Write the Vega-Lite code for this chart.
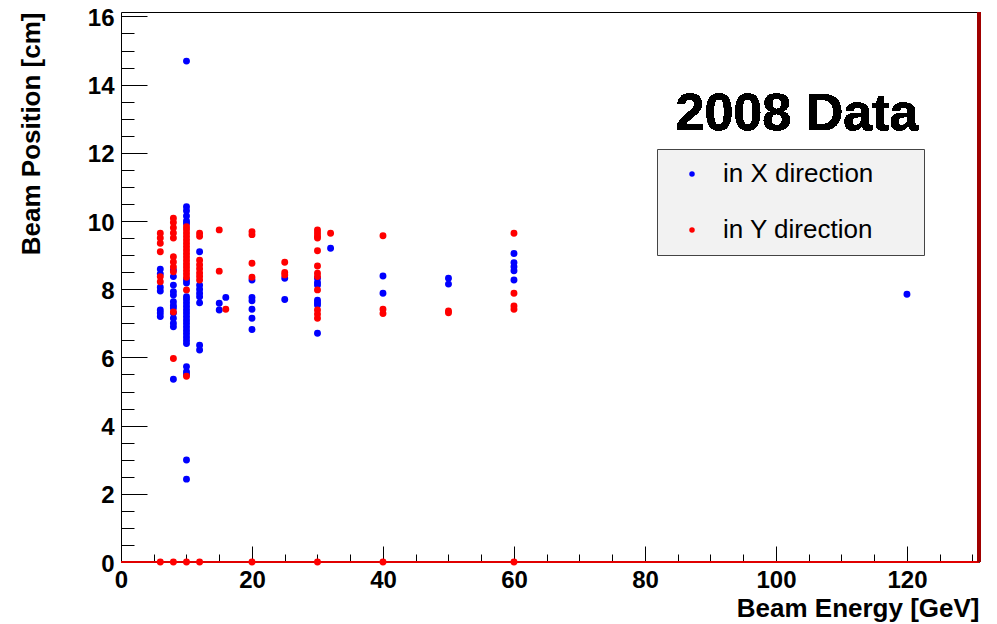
{
  "$schema": "https://vega.github.io/schema/vega-lite/v6.json",
  "width": 858,
  "height": 550,
  "autosize": {"type": "none"},
  "padding": {"left": 121, "top": 12, "right": 18, "bottom": 62},
  "background": "white",
  "config": {
    "view": {"stroke": "black", "strokeWidth": 1},
    "axis": {"grid": false, "domain": false, "tickColor": "black", "tickWidth": 1, "labelFont": "Liberation Sans", "labelFontWeight": "bold", "labelColor": "black", "titleFont": "Liberation Sans", "titleFontWeight": "bold", "titleColor": "black"}
  },
  "data": {"values": [
    {"e":6,"p":8.59,"d":"in X direction"},{"e":6,"p":8.45,"d":"in X direction"},{"e":6,"p":8.06,"d":"in X direction"},{"e":6,"p":7.95,"d":"in X direction"},{"e":6,"p":7.39,"d":"in X direction"},{"e":6,"p":7.3,"d":"in X direction"},{"e":6,"p":7.2,"d":"in X direction"},
    {"e":8,"p":8.56,"d":"in X direction"},{"e":8,"p":8.37,"d":"in X direction"},{"e":8,"p":8.12,"d":"in X direction"},{"e":8,"p":7.93,"d":"in X direction"},{"e":8,"p":7.83,"d":"in X direction"},{"e":8,"p":7.63,"d":"in X direction"},{"e":8,"p":7.52,"d":"in X direction"},{"e":8,"p":7.45,"d":"in X direction"},{"e":8,"p":7.3,"d":"in X direction"},{"e":8,"p":7.15,"d":"in X direction"},{"e":8,"p":7.0,"d":"in X direction"},{"e":8,"p":6.9,"d":"in X direction"},{"e":8,"p":5.36,"d":"in X direction"},
    {"e":10,"p":14.69,"d":"in X direction"},{"e":10,"p":10.42,"d":"in X direction"},{"e":10,"p":10.3,"d":"in X direction"},{"e":10,"p":10.15,"d":"in X direction"},{"e":10,"p":10.0,"d":"in X direction"},{"e":10,"p":9.93,"d":"in X direction"},{"e":10,"p":8.27,"d":"in X direction"},{"e":10,"p":8.18,"d":"in X direction"},{"e":10,"p":7.78,"d":"in X direction"},{"e":10,"p":7.7,"d":"in X direction"},{"e":10,"p":7.6,"d":"in X direction"},{"e":10,"p":7.5,"d":"in X direction"},{"e":10,"p":7.4,"d":"in X direction"},{"e":10,"p":7.3,"d":"in X direction"},{"e":10,"p":7.2,"d":"in X direction"},{"e":10,"p":7.1,"d":"in X direction"},{"e":10,"p":7.0,"d":"in X direction"},{"e":10,"p":6.9,"d":"in X direction"},{"e":10,"p":6.8,"d":"in X direction"},{"e":10,"p":6.7,"d":"in X direction"},{"e":10,"p":6.6,"d":"in X direction"},{"e":10,"p":6.5,"d":"in X direction"},{"e":10,"p":6.41,"d":"in X direction"},{"e":10,"p":5.73,"d":"in X direction"},{"e":10,"p":5.58,"d":"in X direction"},{"e":10,"p":5.5,"d":"in X direction"},{"e":10,"p":2.99,"d":"in X direction"},{"e":10,"p":2.43,"d":"in X direction"},
    {"e":12,"p":9.1,"d":"in X direction"},{"e":12,"p":8.12,"d":"in X direction"},{"e":12,"p":8.0,"d":"in X direction"},{"e":12,"p":7.88,"d":"in X direction"},{"e":12,"p":7.78,"d":"in X direction"},{"e":12,"p":7.6,"d":"in X direction"},{"e":12,"p":6.36,"d":"in X direction"},{"e":12,"p":6.22,"d":"in X direction"},
    {"e":15,"p":7.59,"d":"in X direction"},{"e":15,"p":7.39,"d":"in X direction"},
    {"e":16,"p":7.76,"d":"in X direction"},
    {"e":20,"p":8.27,"d":"in X direction"},{"e":20,"p":7.76,"d":"in X direction"},{"e":20,"p":7.66,"d":"in X direction"},{"e":20,"p":7.41,"d":"in X direction"},{"e":20,"p":7.15,"d":"in X direction"},{"e":20,"p":6.82,"d":"in X direction"},
    {"e":25,"p":8.32,"d":"in X direction"},{"e":25,"p":7.7,"d":"in X direction"},
    {"e":30,"p":8.32,"d":"in X direction"},{"e":30,"p":8.2,"d":"in X direction"},{"e":30,"p":8.12,"d":"in X direction"},{"e":30,"p":7.68,"d":"in X direction"},{"e":30,"p":7.6,"d":"in X direction"},{"e":30,"p":7.54,"d":"in X direction"},{"e":30,"p":6.71,"d":"in X direction"},
    {"e":32,"p":9.2,"d":"in X direction"},
    {"e":40,"p":8.39,"d":"in X direction"},{"e":40,"p":7.88,"d":"in X direction"},
    {"e":50,"p":8.32,"d":"in X direction"},{"e":50,"p":8.15,"d":"in X direction"},
    {"e":60,"p":9.05,"d":"in X direction"},{"e":60,"p":8.78,"d":"in X direction"},{"e":60,"p":8.66,"d":"in X direction"},{"e":60,"p":8.54,"d":"in X direction"},{"e":60,"p":8.27,"d":"in X direction"},
    {"e":120,"p":7.85,"d":"in X direction"},
    {"e":6,"p":9.64,"d":"in Y direction"},{"e":6,"p":9.5,"d":"in Y direction"},{"e":6,"p":9.35,"d":"in Y direction"},{"e":6,"p":9.1,"d":"in Y direction"},{"e":6,"p":8.37,"d":"in Y direction"},{"e":6,"p":8.22,"d":"in Y direction"},{"e":6,"p":0,"d":"in Y direction"},
    {"e":8,"p":10.08,"d":"in Y direction"},{"e":8,"p":9.96,"d":"in Y direction"},{"e":8,"p":9.8,"d":"in Y direction"},{"e":8,"p":9.65,"d":"in Y direction"},{"e":8,"p":9.5,"d":"in Y direction"},{"e":8,"p":8.95,"d":"in Y direction"},{"e":8,"p":8.8,"d":"in Y direction"},{"e":8,"p":8.65,"d":"in Y direction"},{"e":8,"p":8.51,"d":"in Y direction"},{"e":8,"p":7.33,"d":"in Y direction"},{"e":8,"p":5.97,"d":"in Y direction"},{"e":8,"p":0,"d":"in Y direction"},
    {"e":10,"p":9.83,"d":"in Y direction"},{"e":10,"p":9.75,"d":"in Y direction"},{"e":10,"p":9.65,"d":"in Y direction"},{"e":10,"p":9.55,"d":"in Y direction"},{"e":10,"p":9.45,"d":"in Y direction"},{"e":10,"p":9.35,"d":"in Y direction"},{"e":10,"p":9.25,"d":"in Y direction"},{"e":10,"p":9.15,"d":"in Y direction"},{"e":10,"p":9.05,"d":"in Y direction"},{"e":10,"p":8.95,"d":"in Y direction"},{"e":10,"p":8.85,"d":"in Y direction"},{"e":10,"p":8.75,"d":"in Y direction"},{"e":10,"p":8.65,"d":"in Y direction"},{"e":10,"p":8.55,"d":"in Y direction"},{"e":10,"p":8.45,"d":"in Y direction"},{"e":10,"p":8.35,"d":"in Y direction"},{"e":10,"p":7.98,"d":"in Y direction"},{"e":10,"p":5.45,"d":"in Y direction"},{"e":10,"p":0,"d":"in Y direction"},
    {"e":12,"p":9.64,"d":"in Y direction"},{"e":12,"p":9.55,"d":"in Y direction"},{"e":12,"p":8.85,"d":"in Y direction"},{"e":12,"p":8.72,"d":"in Y direction"},{"e":12,"p":8.6,"d":"in Y direction"},{"e":12,"p":8.48,"d":"in Y direction"},{"e":12,"p":8.38,"d":"in Y direction"},{"e":12,"p":8.27,"d":"in Y direction"},{"e":12,"p":0,"d":"in Y direction"},
    {"e":15,"p":9.74,"d":"in Y direction"},{"e":15,"p":8.53,"d":"in Y direction"},
    {"e":16,"p":7.41,"d":"in Y direction"},
    {"e":20,"p":9.69,"d":"in Y direction"},{"e":20,"p":9.6,"d":"in Y direction"},{"e":20,"p":8.76,"d":"in Y direction"},{"e":20,"p":8.35,"d":"in Y direction"},{"e":20,"p":0,"d":"in Y direction"},
    {"e":25,"p":8.79,"d":"in Y direction"},{"e":25,"p":8.49,"d":"in Y direction"},{"e":25,"p":8.42,"d":"in Y direction"},
    {"e":30,"p":9.74,"d":"in Y direction"},{"e":30,"p":9.65,"d":"in Y direction"},{"e":30,"p":9.56,"d":"in Y direction"},{"e":30,"p":9.5,"d":"in Y direction"},{"e":30,"p":9.13,"d":"in Y direction"},{"e":30,"p":8.68,"d":"in Y direction"},{"e":30,"p":8.47,"d":"in Y direction"},{"e":30,"p":8.37,"d":"in Y direction"},{"e":30,"p":7.98,"d":"in Y direction"},{"e":30,"p":7.39,"d":"in Y direction"},{"e":30,"p":7.27,"d":"in Y direction"},{"e":30,"p":7.15,"d":"in Y direction"},{"e":30,"p":0,"d":"in Y direction"},
    {"e":32,"p":9.64,"d":"in Y direction"},
    {"e":40,"p":9.57,"d":"in Y direction"},{"e":40,"p":7.41,"d":"in Y direction"},{"e":40,"p":7.29,"d":"in Y direction"},{"e":40,"p":0,"d":"in Y direction"},
    {"e":50,"p":7.36,"d":"in Y direction"},{"e":50,"p":7.31,"d":"in Y direction"},
    {"e":60,"p":9.64,"d":"in Y direction"},{"e":60,"p":7.88,"d":"in Y direction"},{"e":60,"p":7.51,"d":"in Y direction"},{"e":60,"p":7.41,"d":"in Y direction"},{"e":60,"p":0,"d":"in Y direction"}
  ]},
  "layer": [
    {
      "mark": {"type": "rule", "color": "#e00000", "strokeWidth": 1.5},
      "encoding": {
        "y": {"datum": 0, "type": "quantitative", "scale": {"domain": [0, 16.13], "nice": false, "zero": false},
          "axis": {"orient": "left", "values": [0.5,1,1.5,2,2.5,3,3.5,4,4.5,5,5.5,6,6.5,7,7.5,8,8.5,9,9.5,10,10.5,11,11.5,12,12.5,13,13.5,14,14.5,15,15.5,16], "tickSize": -13, "labels": false, "title": null}}
      }
    },
    {
      "mark": {"type": "rule", "color": "#a00000", "strokeWidth": 3},
      "encoding": {
        "x": {"datum": 131, "type": "quantitative", "scale": {"domain": [0, 131], "nice": false, "zero": false},
          "axis": {"orient": "bottom", "values": [5,10,15,20,25,30,35,40,45,50,55,60,65,70,75,80,85,90,95,100,105,110,115,120,125,130], "tickSize": -8, "labels": false, "title": null}}
      }
    },
    {
      "mark": {"type": "circle", "size": 48, "opacity": 1},
      "encoding": {
        "x": {"field": "e", "type": "quantitative", "scale": {"domain": [0, 131], "nice": false, "zero": false},
          "axis": {"orient": "bottom", "values": [0,20,40,60,80,100,120], "ticks": false, "labelFontSize": 24, "labelPadding": 6, "labelFlush": false, "title": "Beam Energy [GeV]", "titleFontSize": 26, "titleAnchor": "end", "titleAlign": "right", "titleX": 858, "titleY": 54, "titleBaseline": "alphabetic"}},
        "y": {"field": "p", "type": "quantitative", "scale": {"domain": [0, 16.13], "nice": false, "zero": false},
          "axis": {"orient": "left", "values": [0,2,4,6,8,10,12,14,16], "ticks": false, "labelFontSize": 24, "labelPadding": 7, "labelOffset": 2, "labelFlush": false, "title": "Beam Position [cm]", "titleFontSize": 26, "titleAnchor": "end", "titleAlign": "right", "titleAngle": -90, "titleX": -82, "titleY": 0, "titleBaseline": "alphabetic"}},
        "color": {"field": "d", "type": "nominal", "scale": {"domain": ["in X direction", "in Y direction"], "range": ["#0000ff", "#ff0000"]},
          "legend": {"title": null, "orient": "none", "legendX": 536, "legendY": 137, "fillColor": "#f2f2f2", "strokeColor": "#444444", "padding": 12, "symbolType": "circle", "symbolSize": 30, "symbolStrokeWidth": 0, "symbolOffset": 10, "labelOffset": 18, "labelFont": "Liberation Sans", "labelFontSize": 26, "labelColor": "black", "labelLimit": 500, "rowPadding": 30, "labelExpr": "datum.label + '\u2800\u2800'"}}
      }
    },
    {
      "mark": {"type": "text", "text": "2008 Data", "font": "Liberation Sans", "fontWeight": "bold", "fontSize": 52, "align": "center", "baseline": "alphabetic", "color": "black"},
      "encoding": {
        "x": {"datum": 103.2, "type": "quantitative", "scale": {"domain": [0, 131], "nice": false, "zero": false},
          "axis": {"orient": "bottom", "values": [20,40,60,80,100,120], "tickSize": -16, "labels": false, "title": null}},
        "y": {"datum": 12.67, "type": "quantitative", "scale": {"domain": [0, 16.13], "nice": false, "zero": false},
          "axis": {"orient": "left", "values": [2,4,6,8,10,12,14,16], "tickSize": -26, "labels": false, "title": null}}
      }
    }
  ],
  "resolve": {"axis": {"x": "independent", "y": "independent"}}
}
